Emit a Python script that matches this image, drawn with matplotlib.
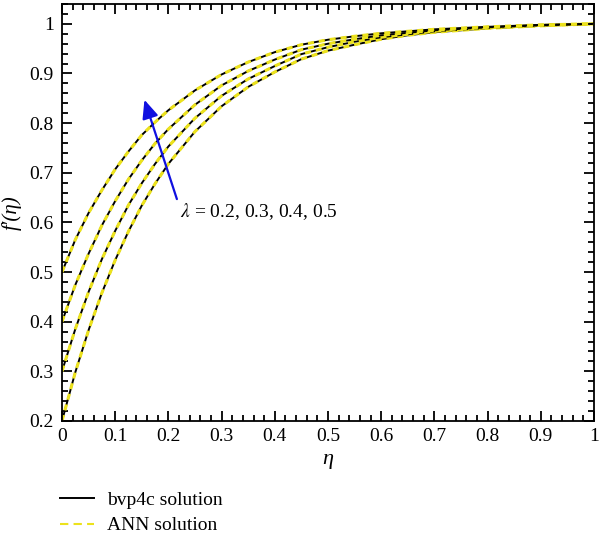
import matplotlib
matplotlib.use('Agg')
import matplotlib.pyplot as plt
from matplotlib.lines import Line2D
from matplotlib.ticker import MultipleLocator

plt.rcParams['font.family'] = ['Liberation Serif', 'DejaVu Serif']
plt.rcParams['mathtext.fontset'] = 'stix'
plt.rcParams['font.size'] = 14

# values
eta = [0, 0.025, 0.05, 0.075, 0.1, 0.125, 0.15, 0.175, 0.2, 0.25, 0.3, 0.35, 0.4, 0.45, 0.5,
       0.55, 0.6, 0.65, 0.7, 0.8, 0.9, 1.0]
lam_02 = [0.200, 0.298, 0.383, 0.458, 0.524, 0.582, 0.634, 0.678, 0.718, 0.783, 0.834, 0.873, 0.903, 0.929, 0.946,
          0.958, 0.969, 0.977, 0.983, 0.991, 0.996, 1.000]
lam_03 = [0.300, 0.385, 0.460, 0.526, 0.583, 0.635, 0.679, 0.718, 0.753, 0.810, 0.855, 0.889, 0.915, 0.939, 0.953,
          0.964, 0.973, 0.979, 0.985, 0.992, 0.997, 1.000]
lam_04 = [0.400, 0.474, 0.537, 0.594, 0.643, 0.687, 0.725, 0.759, 0.788, 0.837, 0.876, 0.905, 0.928, 0.948, 0.960,
          0.969, 0.977, 0.982, 0.987, 0.993, 0.997, 1.000]
lam_05 = [0.500, 0.565, 0.619, 0.665, 0.707, 0.743, 0.776, 0.802, 0.826, 0.866, 0.898, 0.923, 0.943, 0.958, 0.968,
          0.975, 0.981, 0.985, 0.989, 0.994, 0.998, 1.000]
curves = [lam_02, lam_03, lam_04, lam_05]

yellow = '#ece21c'

fig = plt.figure(figsize=(6, 5.4), dpi=100)
ax = fig.add_axes([0.1033, 0.2204, 0.8867, 0.7722])

for f in curves:
    ax.plot(eta, f, color='black', linewidth=1.4, solid_capstyle='butt')
    ax.plot(eta, f, color=yellow, linewidth=2.2, linestyle=(0, (2.0, 1.6)))

ax.set_xlim(0, 1)
ax.set_ylim(0.2, 1.04)
ax.xaxis.set_major_locator(MultipleLocator(0.1))
ax.xaxis.set_minor_locator(MultipleLocator(0.02))
ax.yaxis.set_major_locator(MultipleLocator(0.1))
ax.yaxis.set_minor_locator(MultipleLocator(0.02))
ax.xaxis.set_major_formatter(plt.FuncFormatter(lambda v, p: '%g' % round(v, 2)))
ax.yaxis.set_major_formatter(plt.FuncFormatter(lambda v, p: '%g' % round(v, 2)))
ax.tick_params(which='both', direction='in', top=True, right=True, width=1.3, labelsize=14)
ax.tick_params(which='major', length=7.5)
ax.tick_params(which='minor', length=4.3)
ax.tick_params(axis='x', which='major', pad=5)
ax.tick_params(axis='y', which='major', pad=6)
for s in ax.spines.values():
    s.set_linewidth(1.3)

ax.set_xlabel('η', fontsize=16, fontstyle='italic', labelpad=4)
ax.set_ylabel('f′(η)', fontsize=15, fontstyle='italic')
ax.yaxis.set_label_coords(-0.075, 0.5)

ax.annotate('', xy=(0.155, 0.847), xytext=(0.216, 0.647),
            arrowprops=dict(arrowstyle='-|>,head_length=0.8,head_width=0.35',
                            color='#1010e0', lw=1.6, shrinkA=0, shrinkB=0))
ax.text(0.222, 0.621, r'$\lambda$ = 0.2, 0.3, 0.4, 0.5', fontsize=14, va='center', ha='left')

handles = [Line2D([], [], color='black', linewidth=1.4),
           Line2D([], [], color=yellow, linewidth=1.5, linestyle=(0, (4, 2.5)))]
fig.legend(handles, ['bvp4c solution', 'ANN solution'], loc='upper left',
           bbox_to_anchor=(0.1, 0.09), frameon=False, borderpad=0, borderaxespad=0,
           handlelength=1.75, handletextpad=0.67, labelspacing=0.4, fontsize=14)

fig.savefig('out.png', dpi=100)
